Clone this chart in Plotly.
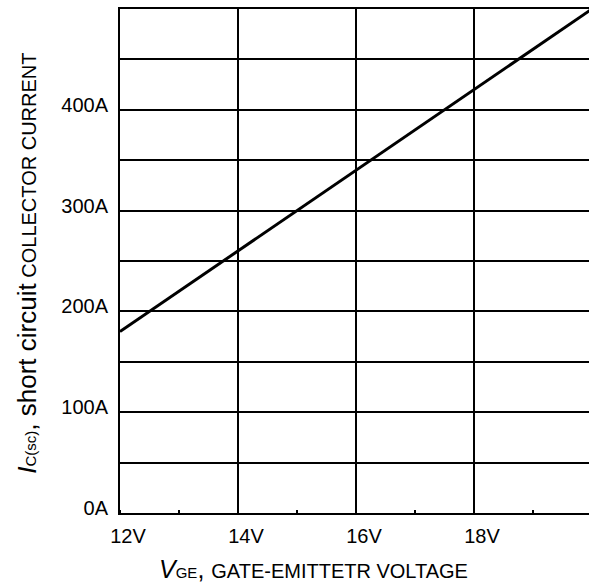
import plotly.graph_objects as go

# Gate-emitter voltage (V) and short-circuit collector current (A)
v_ge = [12, 14, 16, 18, 20]
i_sc = [180, 260, 340, 420, 500]

x_tick_vals = [12, 14, 16, 18]
x_tick_text = ["12V", "14V", "16V", "18V"]
y_tick_vals = [0, 100, 200, 300, 400]
y_tick_text = ["0A", "100A", "200A", "300A", "400A"]

FONT = "Liberation Sans, Arial, sans-serif"

fig = go.Figure()
fig.add_trace(go.Scatter(
    x=v_ge, y=i_sc, mode="lines",
    line=dict(color="black", width=3),
    showlegend=False, hoverinfo="skip",
))

fig.update_layout(
    width=589, height=586,
    margin=dict(l=120, r=0, t=9, b=73),
    paper_bgcolor="white", plot_bgcolor="white",
    font=dict(family=FONT, size=20, color="black"),
    showlegend=False,
)

fig.update_xaxes(
    range=[12, 19.95],
    tickvals=x_tick_vals, ticktext=x_tick_text,
    ticks="", ticklabelshift=8, ticklabelstandoff=4,
    showgrid=True, gridcolor="black", gridwidth=1.5,
    showline=True, linecolor="black", linewidth=2, mirror=True,
    zeroline=False,
    minor=dict(dtick=1, ticks="inside", ticklen=3, tickcolor="black",
               tickwidth=1.5, showgrid=False),
)

fig.update_yaxes(
    range=[0, 500],
    tickvals=y_tick_vals, ticktext=y_tick_text,
    ticks="", ticklabelshift=-5, ticklabelstandoff=6,
    showgrid=True, gridcolor="black", gridwidth=1.5,
    showline=True, linecolor="black", linewidth=2,
    zeroline=False,
    minor=dict(dtick=50, showgrid=True, gridcolor="black", gridwidth=1.5),
)

# Axis titles (symbol in italics, index in a smaller size on the baseline)
fig.add_annotation(
    xref="paper", yref="paper", x=0.079, y=-0.112,
    xanchor="left", yanchor="middle", showarrow=False,
    text="<span style='font-size:25px'><i>V</i></span>"
         "<span style='font-size:15px'>GE</span>"
         "<span style='font-size:25px'>, </span>GATE-EMITTETR VOLTAGE",
    font=dict(family=FONT, size=20, color="black"),
)
fig.add_annotation(
    xref="paper", yref="paper", x=-0.2, y=0.495,
    xanchor="center", yanchor="middle", showarrow=False, textangle=-90,
    text="<span style='font-size:26px'><i>I</i></span>"
         "<span style='font-size:15px'>C(sc)</span>"
         "<span style='font-size:26px'>, short circuit</span> COLLECTOR CURRENT",
    font=dict(family=FONT, size=20, color="black"),
)

fig.write_html("out.html")
